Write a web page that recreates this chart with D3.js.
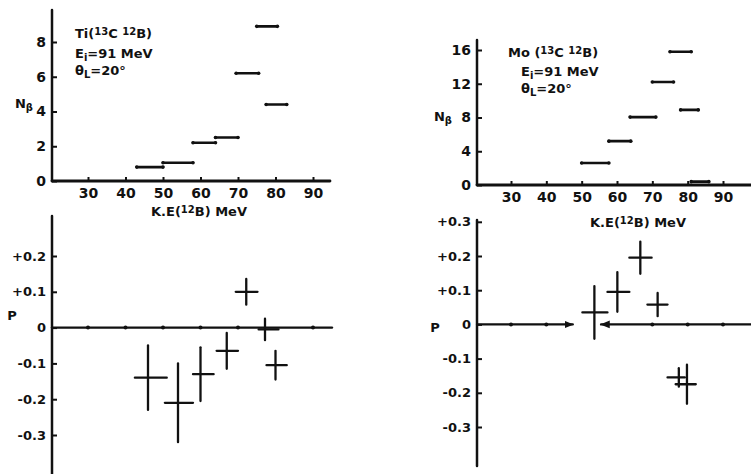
<!DOCTYPE html>
<html lang="en">
<head>
<meta charset="UTF-8">
<title>Ti / Mo (13C,12B) N and P</title>
<script src="https://d3js.org/d3.v7.min.js"></script>
<style>
    body { margin: 0; background: #fff; }
    svg text { font-family: "DejaVu Sans", "Liberation Sans", sans-serif; font-weight: bold; fill: #111; }
</style>
</head>
<body>
<svg id="fig" width="751" height="474"></svg>
<script>
// x tick labels (MeV)
const keTicks = [30, 40, 50, 60, 70, 80, 90];

// Ti(13C,12B) N_beta : bins lo/hi and height
const tiNbLo = [43, 50, 58, 64, 69.5, 75, 77.5];
const tiNbHi = [50, 58, 64, 70, 75.5, 80.5, 83];
const tiNb   = [0.8, 1.05, 2.2, 2.5, 6.2, 8.9, 4.4];
const tiNbTicks = [0, 2, 4, 6, 8];

// Mo(13C,12B) N_beta
const moNbLo = [50, 57.7, 63.7, 70, 75, 78, 81];
const moNbHi = [57.7, 63.9, 71, 76, 81, 83, 86];
const moNb   = [2.6, 5.2, 8.05, 12.2, 15.8, 8.9, 0.4];
const moNbTicks = [0, 4, 8, 12, 16];

// Ti polarisation P
const tiPx   = [46, 54, 60, 67, 72.2, 77.2, 80];
const tiPLo  = [42.5, 50.5, 58, 64.3, 69.4, 75.5, 77.6];
const tiPHi  = [51, 58, 63.5, 70, 75.2, 80.8, 83];
const tiP    = [-0.14, -0.21, -0.13, -0.065, 0.10, -0.005, -0.105];
const tiPErr = [0.09, 0.11, 0.075, 0.05, 0.036, 0.03, 0.04];
const tiPTicks  = [0.2, 0.1, 0, -0.1, -0.2, -0.3];
const tiPLabels = ["+0.2", "+0.1", "0", "-0.1", "-0.2", "-0.3"];

// Mo polarisation P
const moPx   = [53.6, 60.1, 66.6, 71.5, 77.5, 79.8];
const moPLo  = [50.2, 57.3, 63.5, 68.6, 74.3, 76.6];
const moPHi  = [57.3, 63.5, 69.8, 74.3, 79.2, 82.3];
const moP    = [0.035, 0.095, 0.195, 0.058, -0.155, -0.175];
const moPErr = [0.077, 0.058, 0.047, 0.034, 0.027, 0.057];
const moPTicks  = [0.3, 0.2, 0.1, 0, -0.1, -0.2, -0.3];
const moPLabels = ["+0.3", "+0.2", "+0.1", "0", "-0.1", "-0.2", "-0.3"];

const svg = d3.select("#fig");

svg.append("defs").append("marker")
    .attr("id", "arr")
    .attr("viewBox", "0 0 10 10")
    .attr("refX", 9).attr("refY", 5)
    .attr("markerWidth", 4).attr("markerHeight", 4)
    .attr("orient", "auto-start-reverse")
    .append("path").attr("d", "M0,1 L10,5 L0,9 z").attr("fill", "#111");

// scales
const xTi = d3.scaleLinear().domain([30, 90]).range([88, 313]);
const xMo = d3.scaleLinear().domain([30, 90]).range([511, 723]);
const yTiN = d3.scaleLinear().domain([0, 8]).range([181, 42]);
const yMoN = d3.scaleLinear().domain([0, 16]).range([185, 50]);
const yTiP = d3.scaleLinear().domain([0.2, -0.3]).range([256, 435]);
const yMoP = d3.scaleLinear().domain([0.2, -0.3]).range([256, 427]);

function line(x1, y1, x2, y2, w) {
    return svg.append("line")
        .attr("x1", x1).attr("y1", y1).attr("x2", x2).attr("y2", y2)
        .attr("stroke", "#111").attr("stroke-width", w || 2)
        .attr("stroke-linecap", "round");
}

function styleAxis(g, fs) {
    g.select(".domain").remove();
    g.selectAll(".tick line").attr("stroke", "#111").attr("stroke-width", 2);
    g.selectAll(".tick text").attr("font-size", fs).attr("fill", "#111");
}

function yAxis(x0, y, ticks, labels, fs) {
    const ax = d3.axisLeft(y).tickValues(ticks).tickSize(-5).tickPadding(6);
    if (labels) ax.tickFormat((d, i) => labels[i]);
    svg.append("g").attr("transform", "translate(" + x0 + ",0)").call(ax).call(styleAxis, fs);
}

function xAxis(y0, x) {
    svg.append("g").attr("transform", "translate(0," + y0 + ")")
        .call(d3.axisBottom(x).tickValues(keTicks).tickSize(-4).tickPadding(7))
        .call(styleAxis, "14px");
}

function rich(x, y, parts, size, anchor) {
    const t = svg.append("text").attr("x", x).attr("y", y)
        .attr("font-size", size).attr("text-anchor", anchor || "start");
    parts.forEach(p => {
        const s = t.append("tspan").text(p[0]);
        if (p[1] === "sup") s.attr("baseline-shift", "35%").attr("font-size", "10px");
        if (p[1] === "sub") s.attr("baseline-shift", "-30%").attr("font-size", "10px");
    });
    return t;
}

function nbPanel(x, y, lo, hi, v) {
    lo.forEach((d, i) => {
        line(x(d), y(v[i]), x(hi[i]), y(v[i]), 2.6);
        svg.append("circle").attr("cx", x(d)).attr("cy", y(v[i])).attr("r", 1.8).attr("fill", "#111");
        svg.append("circle").attr("cx", x(hi[i])).attr("cy", y(v[i])).attr("r", 1.8).attr("fill", "#111");
    });
}

function pPanel(x, y, xc, lo, hi, v, err) {
    xc.forEach((d, i) => {
        line(x(lo[i]), y(v[i]), x(hi[i]), y(v[i]), 2.3);
        line(x(d), y(v[i] + err[i]), x(d), y(v[i] - err[i]), 2.3);
    });
}

// ---------- Ti, N_beta ----------
line(52, 10, 52, 181, 2.5);
line(52, 181, 330, 181, 2.8);
yAxis(52, yTiN, tiNbTicks, null, "14px");
xAxis(181, xTi);
nbPanel(xTi, yTiN, tiNbLo, tiNbHi, tiNb);
rich(24, 108, [["N"], ["β", "sub"]], "13px", "middle");
rich(199, 216, [["K.E("], ["12", "sup"], ["B) MeV"]], "13px", "middle");
rich(75, 38, [["Ti("], ["13", "sup"], ["C "], ["12", "sup"], ["B)"]], "13px");
rich(75, 58, [["E"], ["i", "sub"], ["=91 MeV"]], "13px");
rich(75, 75, [["θ"], ["L", "sub"], ["=20°"]], "13px");

// ---------- Mo, N_beta ----------
line(477, 40, 477, 185, 2.5);
line(477, 185, 751, 185, 2.8);
yAxis(477, yMoN, moNbTicks, null, "14px");
xAxis(185, xMo);
nbPanel(xMo, yMoN, moNbLo, moNbHi, moNb);
rich(443, 121, [["N"], ["β", "sub"]], "13px", "middle");
rich(638, 227, [["K.E("], ["12", "sup"], ["B) MeV"]], "13px", "middle");
rich(508, 57, [["Mo ("], ["13", "sup"], ["C "], ["12", "sup"], ["B)"]], "13px");
rich(521, 76, [["E"], ["i", "sub"], ["=91 MeV"]], "13px");
rich(521, 93, [["θ"], ["L", "sub"], ["=20°"]], "13px");

// ---------- Ti, P ----------
line(52, 216, 52, 474, 2.5);
yAxis(52, yTiP, tiPTicks, tiPLabels, "13px");
line(52, yTiP(0), 332, yTiP(0), 2.4);
[30, 40, 50, 60, 70, 90].forEach(k => {
    svg.append("circle").attr("cx", xTi(k)).attr("cy", yTiP(0)).attr("r", 2).attr("fill", "#111");
});
pPanel(xTi, yTiP, tiPx, tiPLo, tiPHi, tiP, tiPErr);
rich(12, 320, [["P"]], "13px", "middle");

// ---------- Mo, P ----------
line(477, 220, 477, 466, 2.5);
yAxis(477, yMoP, moPTicks, moPLabels, "13px");
line(477, yMoP(0), xMo(47.5), yMoP(0), 2.2).attr("marker-end", "url(#arr)");
line(xMo(55.5), yMoP(0), 751, yMoP(0), 2.4).attr("marker-start", "url(#arr)");
[30, 40, 70, 80, 90].forEach(k => {
    svg.append("circle").attr("cx", xMo(k)).attr("cy", yMoP(0)).attr("r", 2).attr("fill", "#111");
});
pPanel(xMo, yMoP, moPx, moPLo, moPHi, moP, moPErr);
rich(435, 332, [["P"]], "13px", "middle");
</script>
</body>
</html>
